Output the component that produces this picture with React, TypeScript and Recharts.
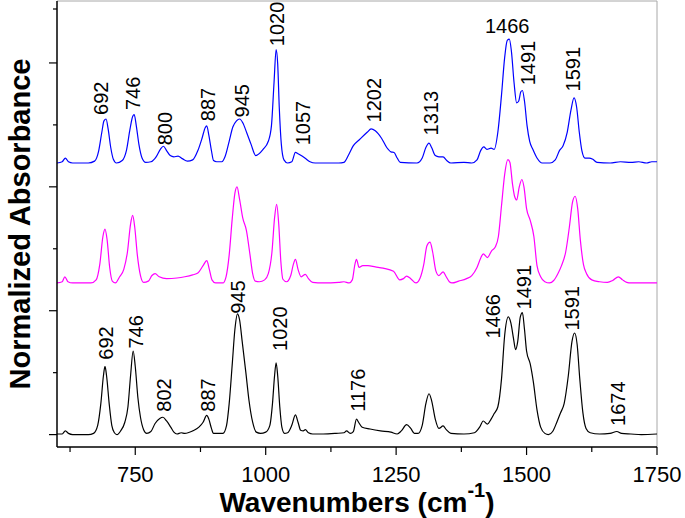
import React from 'react';
import { ComposedChart, Line, Scatter, XAxis, YAxis, ReferenceLine } from 'recharts';

const FONT = "Arial, 'Liberation Sans', Helvetica, sans-serif";

// x-axis ticks (wavenumbers); only multiples of 250 get a label
const xTicks = [625, 750, 875, 1000, 1125, 1250, 1375, 1500, 1625, 1750];
const yTicks = [0, 1, 2, 3, 4, 5, 6, 7];

// vertical offsets of the stacked spectra
const BLUE_OFFSET = 4.385;
const MAGENTA_OFFSET = 2.448;

// bottom spectrum (black)
const blackWn = [600, 610, 616, 622, 630, 660, 670, 678, 684, 689, 692, 695, 700, 705, 710, 715, 722, 730, 736, 741, 746, 750, 755, 760, 766, 772, 780, 788, 797, 803, 810, 818, 824, 830, 838, 845, 860, 872, 880, 887, 891, 896, 900, 918, 925, 930, 936, 941, 946, 950, 955, 962, 968, 975, 982, 990, 1000, 1008, 1013, 1017, 1020, 1023, 1027, 1031, 1036, 1042, 1050, 1057, 1062, 1067, 1072, 1076, 1082, 1090, 1110, 1135, 1150, 1155, 1162, 1168, 1174, 1178, 1185, 1200, 1220, 1240, 1252, 1260, 1270, 1278, 1285, 1292, 1300, 1307, 1313, 1318, 1325, 1332, 1340, 1346, 1355, 1380, 1400, 1410, 1417, 1425, 1432, 1438, 1445, 1452, 1458, 1465, 1470, 1475, 1479, 1483, 1488, 1492, 1496, 1500, 1507, 1513, 1520, 1527, 1535, 1542, 1550, 1558, 1565, 1572, 1580, 1587, 1592, 1597, 1602, 1608, 1614, 1622, 1640, 1660, 1673, 1682, 1700, 1720, 1750];
const blackAbs = [0.01, 0.01, 0.06, 0.02, 0.0, 0.0, 0.02, 0.15, 0.5, 0.95, 1.1, 0.95, 0.5, 0.15, 0.03, 0.0, 0.06, 0.2, 0.45, 0.95, 1.35, 1.1, 0.6, 0.28, 0.08, 0.02, 0.05, 0.18, 0.26, 0.28, 0.22, 0.12, 0.04, 0.01, 0.03, 0.02, 0.06, 0.12, 0.2, 0.31, 0.25, 0.1, 0.02, 0.02, 0.15, 0.5, 1.15, 1.7, 1.95, 1.85, 1.5, 1.0, 0.55, 0.2, 0.04, 0.02, 0.04, 0.15, 0.5, 0.95, 1.16, 0.95, 0.45, 0.12, 0.02, 0.03, 0.15, 0.32, 0.2, 0.07, 0.06, 0.08, 0.03, 0.01, 0.01, 0.02, 0.03, 0.06, 0.02, 0.05, 0.25, 0.2, 0.12, 0.09, 0.06, 0.04, 0.01, 0.06, 0.16, 0.1, 0.02, 0.02, 0.15, 0.5, 0.66, 0.55, 0.25, 0.1, 0.14, 0.08, 0.02, 0.01, 0.03, 0.12, 0.22, 0.17, 0.25, 0.34, 0.45, 0.9, 1.6, 1.9, 1.8, 1.55, 1.37, 1.5, 1.9, 1.97, 1.7, 1.35, 1.14, 0.85, 0.4, 0.12, 0.02, 0.0, 0.05, 0.2, 0.35, 0.5, 0.95, 1.5, 1.64, 1.45, 0.9, 0.35, 0.1, 0.03, 0.01, 0.02, 0.05, 0.02, 0.01, 0.0, 0.01];

// middle spectrum (magenta), relative to its own baseline
const magentaWn = [600, 610, 615, 621, 630, 665, 675, 682, 688, 692, 696, 701, 706, 712, 720, 728, 735, 741, 745, 749, 754, 760, 766, 775, 782, 788, 796, 810, 830, 845, 860, 870, 880, 887, 892, 897, 904, 918, 924, 930, 936, 941, 945, 950, 956, 963, 970, 975, 980, 988, 998, 1005, 1012, 1017, 1021, 1025, 1029, 1033, 1040, 1048, 1053, 1057, 1062, 1068, 1076, 1082, 1090, 1110, 1140, 1150, 1160, 1166, 1171, 1174, 1179, 1186, 1196, 1210, 1225, 1245, 1257, 1264, 1270, 1278, 1288, 1296, 1303, 1309, 1315, 1320, 1326, 1332, 1340, 1346, 1352, 1357, 1370, 1385, 1395, 1405, 1412, 1417, 1425, 1433, 1440, 1446, 1452, 1458, 1464, 1468, 1473, 1477, 1481, 1486, 1491, 1495, 1500, 1507, 1514, 1520, 1527, 1535, 1544, 1552, 1560, 1567, 1575, 1582, 1588, 1593, 1598, 1603, 1609, 1615, 1625, 1640, 1655, 1665, 1676, 1684, 1692, 1700, 1750];
const magentaAbs = [0.0, 0.02, 0.1, 0.02, 0.0, 0.0, 0.05, 0.3, 0.75, 0.87, 0.7, 0.25, 0.03, 0.0, 0.1, 0.22, 0.5, 0.95, 1.09, 0.9, 0.45, 0.12, 0.01, 0.03, 0.12, 0.15, 0.1, 0.07, 0.08, 0.1, 0.13, 0.16, 0.28, 0.36, 0.22, 0.05, 0.0, 0.0, 0.1, 0.45, 1.05, 1.45, 1.55, 1.35, 1.05, 0.85, 0.45, 0.15, 0.03, 0.02, 0.05, 0.15, 0.5, 1.05, 1.27, 0.95, 0.35, 0.06, 0.02, 0.12, 0.3, 0.38, 0.22, 0.1, 0.14, 0.07, 0.01, 0.0, 0.01, 0.02, 0.0, 0.05, 0.3, 0.38, 0.25, 0.28, 0.28, 0.26, 0.24, 0.19, 0.05, 0.07, 0.11, 0.07, 0.0, 0.08, 0.3, 0.6, 0.66, 0.5, 0.2, 0.12, 0.18, 0.1, 0.02, 0.0, 0.03, 0.07, 0.12, 0.25, 0.4, 0.47, 0.41, 0.52, 0.58, 0.75, 1.25, 1.75, 1.99, 1.95, 1.6, 1.4, 1.34, 1.55, 1.67, 1.55, 1.2, 1.01, 0.75, 0.28, 0.1, 0.02, 0.0, 0.04, 0.15, 0.28, 0.5, 0.9, 1.3, 1.4, 1.2, 0.7, 0.3, 0.15, 0.05, 0.02, 0.01, 0.04, 0.1, 0.05, 0.01, 0.0, 0.0];

// top spectrum (blue), relative to its own baseline
const blueWn = [600, 610, 616, 622, 630, 660, 672, 680, 686, 690, 694, 698, 703, 708, 714, 725, 733, 740, 745, 748, 752, 757, 763, 770, 780, 790, 798, 804, 810, 817, 824, 832, 840, 850, 860, 870, 878, 884, 887, 891, 896, 900, 906, 916, 922, 930, 937, 944, 950, 956, 964, 972, 981, 995, 1005, 1011, 1016, 1020, 1023, 1026, 1030, 1035, 1042, 1050, 1057, 1062, 1068, 1075, 1085, 1095, 1140, 1150, 1160, 1168, 1180, 1195, 1202, 1210, 1222, 1232, 1240, 1246, 1252, 1258, 1290, 1300, 1307, 1313, 1318, 1325, 1332, 1340, 1347, 1355, 1380, 1395, 1405, 1412, 1418, 1424, 1432, 1438, 1445, 1452, 1458, 1463, 1467, 1471, 1476, 1481, 1485, 1489, 1492, 1496, 1501, 1506, 1512, 1520, 1530, 1545, 1555, 1563, 1570, 1578, 1585, 1591, 1596, 1601, 1606, 1612, 1620, 1627, 1635, 1660, 1680, 1700, 1715, 1730, 1740, 1750];
const blueAbs = [0.0, 0.02, 0.08, 0.02, 0.0, 0.0, 0.03, 0.2, 0.5, 0.68, 0.71, 0.55, 0.25, 0.06, 0.0, 0.04, 0.2, 0.55, 0.75, 0.78, 0.6, 0.3, 0.08, 0.01, 0.02, 0.1, 0.22, 0.27, 0.2, 0.12, 0.1, 0.11, 0.07, 0.03, 0.05, 0.2, 0.4, 0.57, 0.6, 0.45, 0.2, 0.04, 0.02, 0.02, 0.1, 0.35, 0.58, 0.68, 0.71, 0.65, 0.48, 0.3, 0.12, 0.22, 0.35, 0.6, 1.3, 1.83, 1.6, 0.9, 0.3, 0.05, 0.0, 0.02, 0.17, 0.15, 0.12, 0.08, 0.02, 0.0, 0.0, 0.01, 0.15, 0.28, 0.38, 0.5, 0.55, 0.52, 0.4, 0.25, 0.18, 0.17, 0.08, 0.01, 0.0, 0.08, 0.25, 0.32, 0.25, 0.12, 0.1, 0.1, 0.04, 0.0, 0.01, 0.0, 0.05, 0.2, 0.26, 0.22, 0.24, 0.22, 0.5, 1.1, 1.7, 1.98, 2.0, 1.8, 1.3, 0.97, 1.0, 1.15, 1.17, 1.0, 0.6, 0.35, 0.22, 0.08, 0.0, 0.0, 0.05, 0.2, 0.28, 0.5, 0.85, 1.05, 0.9, 0.5, 0.2, 0.08, 0.08, 0.06, 0.01, 0.0, 0.02, 0.01, 0.02, 0.0, 0.02, 0.02];

// peak annotations: label text, wavenumber of label centre, absorbance at label foot
const peakText = ['692', '746', '800', '887', '945', '1020', '1057', '1202', '1313', '1466', '1491', '1591',
  '692', '746', '802', '887', '945', '1020', '1176', '1466', '1491', '1591', '1674'];
const peakWn = [684, 746, 807, 889, 955, 1022, 1072, 1208, 1317, 1463, 1503, 1589,
  693, 752, 805, 889, 946, 1027, 1176, 1436, 1496, 1587, 1675];
const peakY = [5.16, 5.24, 4.67, 5.06, 5.12, 6.27, 4.67, 5.04, 4.83, 6.48, 5.64, 5.54,
  1.21, 1.39, 0.37, 0.37, 1.95, 1.35, 0.37, 1.55, 2.02, 1.68, 0.14];
const peakFlat = ['1466'];

const toRows = (wn: number[], abs: number[], offset: number) =>
  wn.map((x, i) => ({ x, y: abs[i] + offset }));

const blackData = toRows(blackWn, blackAbs, 0);
const magentaData = toRows(magentaWn, magentaAbs, MAGENTA_OFFSET);
const blueData = toRows(blueWn, blueAbs, BLUE_OFFSET);
const labelData = peakText.map((t, i) => ({
  x: peakWn[i],
  y: peakY[i],
  text: t,
  flat: i < 12 && peakFlat.includes(t),
}));

const XTick = (props: any) => {
  const { x, y, payload } = props;
  const major = payload.value % 250 === 0;
  return (
    <g>
      <line x1={x} x2={x} y1={y} y2={y + (major ? 8 : 5)} stroke="#000" strokeWidth={1.2} />
      {major && (
        <text x={x} y={y + 35} textAnchor="middle" fontSize={22} fontFamily={FONT} fill="#000">
          {payload.value}
        </text>
      )}
    </g>
  );
};

const YTick = (props: any) => {
  const { x, y, payload } = props;
  const major = payload.value % 2 === 0;
  return <line x1={x} x2={x - (major ? 8 : 4)} y1={y} y2={y} stroke="#000" strokeWidth={1.2} />;
};

const PeakLabel = (props: any) => {
  const { cx, cy, payload } = props;
  if (payload.flat) {
    return (
      <text x={cx} y={cy} textAnchor="middle" fontSize={20} fontFamily={FONT} fill="#000">
        {payload.text}
      </text>
    );
  }
  return (
    <text
      x={cx}
      y={cy}
      transform={`rotate(-90 ${cx} ${cy})`}
      textAnchor="start"
      dominantBaseline="central"
      fontSize={20}
      fontFamily={FONT}
      fill="#000"
    >
      {payload.text}
    </text>
  );
};

const XTitle = (props: any) => {
  const { viewBox } = props;
  const cx = viewBox.x + viewBox.width / 2;
  return (
    <text x={cx} y={512} textAnchor="middle" fontSize={28} fontWeight="bold" fontFamily={FONT} fill="#000">
      <tspan>Wavenumbers (cm</tspan>
      <tspan dy={-15} fontSize={20}>-1</tspan>
      <tspan dy={15}>)</tspan>
    </text>
  );
};

const YTitle = (props: any) => {
  const { viewBox } = props;
  const cy = viewBox.y + viewBox.height / 2;
  return (
    <text
      x={20}
      y={cy}
      transform={`rotate(-90 20 ${cy})`}
      textAnchor="middle"
      dominantBaseline="central"
      fontSize={29}
      fontWeight="bold"
      fontFamily={FONT}
      fill="#000"
    >
      Normalized Absorbance
    </text>
  );
};

export default function App() {
  return (
    <div style={{ position: 'absolute', left: 0, top: 0, width: 685, height: 518, background: '#fff' }}>
      <ComposedChart width={685} height={518} margin={{ top: 1, right: 28, bottom: 0, left: 0 }}>
        <XAxis
          type="number"
          dataKey="x"
          domain={[600, 1750]}
          ticks={xTicks}
          tick={<XTick />}
          tickLine={false}
          tickSize={0}
          tickMargin={0}
          height={71}
          axisLine={{ stroke: '#000', strokeWidth: 1.5 }}
          allowDataOverflow
          label={<XTitle />}
        />
        <YAxis
          type="number"
          dataKey="y"
          domain={[-0.2, 7]}
          ticks={yTicks}
          tick={<YTick />}
          tickLine={false}
          tickSize={0}
          tickMargin={0}
          width={57}
          axisLine={{ stroke: '#000', strokeWidth: 1.5 }}
          allowDataOverflow
          label={<YTitle />}
        />
        <ReferenceLine y={7} stroke="#a8a8a8" strokeWidth={1} />
        <ReferenceLine x={1750} stroke="#a8a8a8" strokeWidth={1} />
        <Line data={blackData} dataKey="y" type="monotone" stroke="#000000" strokeWidth={1.2} dot={false} isAnimationActive={false} />
        <Line data={magentaData} dataKey="y" type="monotone" stroke="#ff00ff" strokeWidth={1.2} dot={false} isAnimationActive={false} />
        <Line data={blueData} dataKey="y" type="monotone" stroke="#0000ff" strokeWidth={1.2} dot={false} isAnimationActive={false} />
        <Scatter data={labelData} dataKey="y" shape={<PeakLabel />} isAnimationActive={false} />
      </ComposedChart>
    </div>
  );
}
